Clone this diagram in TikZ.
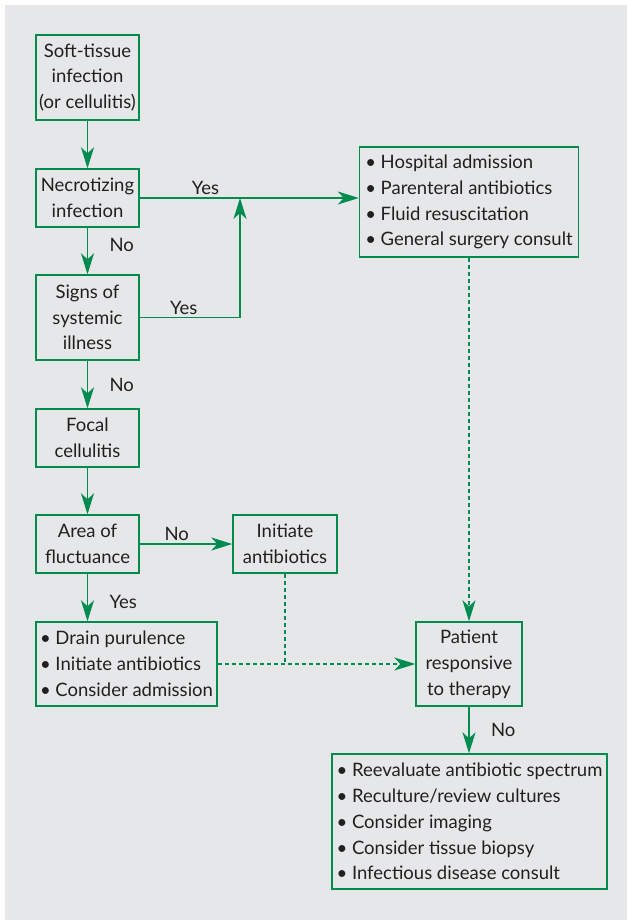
\documentclass[tikz,border=0pt]{standalone}
\usepackage{fontspec}
\setmainfont{Lato}
\usetikzlibrary{arrows.meta}
\definecolor{flowgreen}{RGB}{0,140,80}
\definecolor{panelgray}{RGB}{230,231,232}
\definecolor{inkgray}{RGB}{35,31,32}

\begin{document}
\begin{tikzpicture}[x=1pt,y=-1pt,>={Stealth[length=21pt,width=13pt,inset=6pt]},
	box/.style={draw=flowgreen,line width=1.4pt,text=inkgray,align=center,inner sep=0pt,font=\fontsize{18.5}{25.8}\selectfont},
	listbox/.style={box,align=left},
	flow/.style={->,draw=flowgreen,line width=1.4pt},
	dashflow/.style={draw=flowgreen,line width=1.3pt,dash pattern=on 4pt off 3pt},
	answer/.style={text=inkgray,font=\fontsize{18.5}{20}\selectfont}]
% Frame
\useasboundingbox (0,0) rectangle (627,920);
\fill[panelgray] (5,5) rectangle (627,920);

% Left column
\node[box,minimum width=103pt,minimum height=85pt] (soft) at (87.5,77.5) {Soft-tissue\\infection\\(or cellulitis)};
\node[box,minimum width=103pt,minimum height=58pt] (necro) at (87.5,198) {Necrotizing\\infection};
\node[box,minimum width=103pt,minimum height=85pt] (signs) at (87.5,317.5) {Signs of\\systemic\\illness};
\node[box,minimum width=103pt,minimum height=58pt] (focal) at (87.5,438) {Focal\\cellulitis};
\node[box,minimum width=103pt,minimum height=58pt] (area) at (87.5,544) {Area of\\fluctuance};
\node[box,minimum width=104pt,minimum height=58pt] (initab) at (285,544) {Initiate\\antibiotics};
\node[listbox,minimum width=181pt,minimum height=84pt] (drain) at (126.5,664) {\textbullet\ Drain purulence\\\textbullet\ Initiate antibiotics\\\textbullet\ Consider admission};

% Right column
\node[listbox,minimum width=219pt,minimum height=110pt] (hosp) at (469,202) {\textbullet\ Hospital admission\\\textbullet\ Parenteral antibiotics\\\textbullet\ Fluid resuscitation\\\textbullet\ General surgery consult};
\node[box,minimum width=106pt,minimum height=84pt] (patient) at (469,664) {Patient\\responsive\\to therapy};
\node[listbox,minimum width=275pt,minimum height=135pt] (reeval) at (469.5,821.5) {\textbullet\ Reevaluate antibiotic spectrum\\\textbullet\ Reculture/review cultures\\\textbullet\ Consider imaging\\\textbullet\ Consider tissue biopsy\\\textbullet\ Infectious disease consult};

% Solid arrows
\coordinate (merge) at (240,198);
\draw[flow] (soft) -- (necro);
\draw[flow] (necro) -- (signs) node[answer,pos=0.37,right=18pt] {No};
\draw[flow] (necro.east) -- (necro.east -| hosp.west) node[answer,pos=0.3,above=-1pt] {Yes};
\draw[flow] (signs.east) -| (merge) node[answer,pos=0.22,above=-1pt] {Yes};
\draw[flow] (signs) -- (focal) node[answer,midway,right=18pt] {No};
\draw[flow] (focal) -- (area);
\draw[flow] (area) -- (initab) node[answer,pos=0.4,above=-1pt] {No};
\draw[flow] (area) -- (area |- drain.north) node[answer,pos=0.6,right=18pt] {Yes};
\draw[flow] (patient) -- (patient |- reeval.north) node[answer,midway,right=18pt] {No};

% Dashed arrows
\draw[dashflow] (initab.south) -- (initab.south |- drain.east);
\draw[dashflow,->] (drain.east) -- (patient.west);
\draw[dashflow,->] (hosp.south) -- (patient.north);
\end{tikzpicture}
\end{document}
